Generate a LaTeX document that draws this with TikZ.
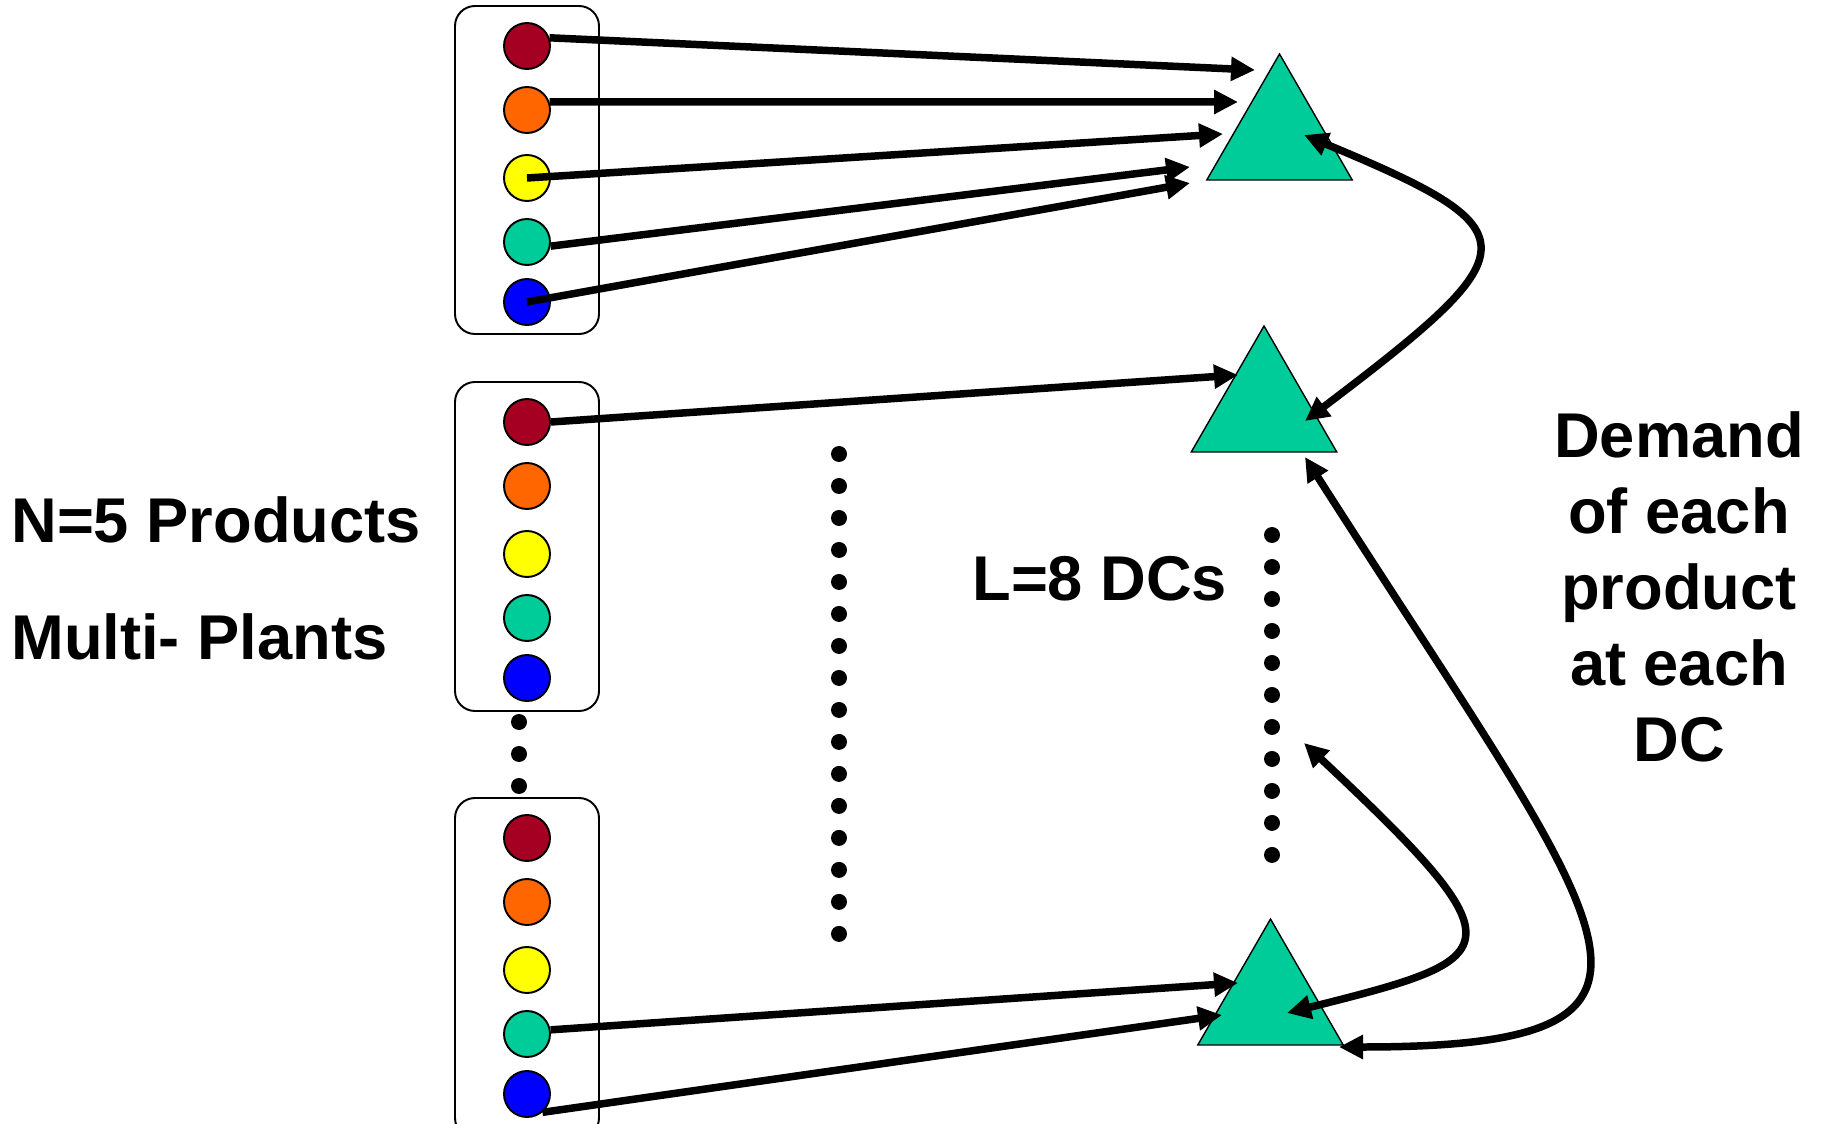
\documentclass[tikz,border=0pt]{standalone}
\usepackage{fontspec}
\setmainfont{Liberation Sans}
\usepackage{tikz}
\usetikzlibrary{arrows.meta,shapes.geometric,positioning}
\definecolor{prodred}{RGB}{165,0,33}
\definecolor{prodorange}{RGB}{255,102,0}
\definecolor{prodyellow}{RGB}{255,255,0}
\definecolor{prodgreen}{RGB}{0,204,153}
\definecolor{prodblue}{RGB}{0,0,255}
\tikzset{
  prod/.style={circle,draw,line width=1.1pt,minimum size=0.92cm,inner sep=0pt},
  dc/.style={regular polygon,regular polygon sides=3,minimum size=3.36cm,inner sep=0pt,
    fill=prodgreen,draw,line width=0.8pt},
  plant/.style={draw,line width=1.1pt,rounded corners=0.4cm},
  ship/.style={line width=0.15cm,-{Triangle[length=0.48cm,width=0.46cm]}},
  demand/.style={line width=0.15cm,
    {Triangle[length=0.48cm,width=0.46cm]}-{Triangle[length=0.48cm,width=0.46cm]}},
  dots/.style={line width=0.32cm,line cap=round,dash pattern=on 0pt off 0.64cm},
  lab/.style={font=\fontsize{36}{43.3}\selectfont\bfseries,inner sep=0pt}
}

\begin{document}
\begin{tikzpicture}[x=0.02cm,y=-0.02cm]
  \useasboundingbox (0,0) rectangle (1821,1124);
  %draw plant boxes
  \draw[plant] (455,6) rectangle (599,334);
  \draw[plant] (455,382) rectangle (599,711);
  \draw[plant] (455,798) rectangle (599,1138);
  %draw products of plant 1
  \node[prod,fill=prodred]    (P1r) at (527,46) {};
  \node[prod,fill=prodorange] (P1o) at (527,110) {};
  \node[prod,fill=prodyellow] (P1y) at (527,178) {};
  \node[prod,fill=prodgreen]  (P1g) at (527,242) {};
  \node[prod,fill=prodblue]   (P1b) at (527,302) {};
  %draw products of plant 2
  \node[prod,fill=prodred]    (P2r) at (527,422) {};
  \node[prod,fill=prodorange] (P2o) at (527,486) {};
  \node[prod,fill=prodyellow] (P2y) at (527,554) {};
  \node[prod,fill=prodgreen]  (P2g) at (527,618) {};
  \node[prod,fill=prodblue]   (P2b) at (527,678) {};
  %draw products of last plant
  \node[prod,fill=prodred]    (P3r) at (527,838) {};
  \node[prod,fill=prodorange] (P3o) at (527,902) {};
  \node[prod,fill=prodyellow] (P3y) at (527,970) {};
  \node[prod,fill=prodgreen]  (P3g) at (527,1034) {};
  \node[prod,fill=prodblue]   (P3b) at (527,1094) {};
  %draw DC triangles
  \node[dc] (DC1) at (1279.5,138) {};
  \node[dc] (DC2) at (1264,410) {};
  \node[dc] (DC3) at (1270.5,1003) {};
  %draw dotted columns
  \draw[dots] (519,722) -- (519,788);
  \draw[dots] (839,454) -- (839,935);
  \draw[dots] (1272,535) -- (1272,856);
  %arrow ends at the DCs
  \coordinate (E1r) at (1255,70);
  \coordinate (E1o) at (1238,102);
  \coordinate (E1y) at (1223,134);
  \coordinate (E1g) at (1190,167);
  \coordinate (E1b) at (1190,183);
  \coordinate (E2r) at (1238,375);
  \coordinate (E3g) at (1238,983);
  \coordinate (E3b) at (1222,1015);
  %draw shipping arrows
  \draw[ship] (P1r.20) -- (E1r);
  \draw[ship] (P1o.20) -- (E1o);
  \draw[ship] (P1y.center) -- (E1y);
  \draw[ship] (P1g.-10) -- (E1g);
  \draw[ship] (P1b.center) -- (E1b);
  \draw[ship] (P2r.east) -- (E2r);
  \draw[ship] (P3g.10) -- (E3g);
  \draw[ship] (P3b.-50) -- (E3b);
  %ends of demand links
  \coordinate (DA1) at (1304,135);
  \coordinate (DA2) at (1305,421);
  \coordinate (DB1) at (1304,743);
  \coordinate (DB2) at (1287,1013);
  \coordinate (DC1a) at (1305,457);
  \coordinate (DC1b) at (1339,1047);
  %draw demand links
  \draw[demand] (DA1) .. controls (1535,231) and (1532,249) .. (DA2);
  \draw[demand] (DB1) .. controls (1526,951) and (1506,958) .. (DB2);
  \draw[demand] (DC1a) .. controls (1612,938) and (1728,1047) .. (DC1b);
  %insert labels
  \node[lab,anchor=base west] (Nlab) at (11,542) {N=5 Products};
  \node[lab,anchor=base west] (Mlab) at (11,659) {Multi- Plants};
  \node[lab,anchor=base west] (Llab) at (972,601) {L=8 DCs};
  \node[lab,align=center] (Dlab) at (1679,587) {Demand\\of each\\product\\at each\\DC};
\end{tikzpicture}
\end{document}
